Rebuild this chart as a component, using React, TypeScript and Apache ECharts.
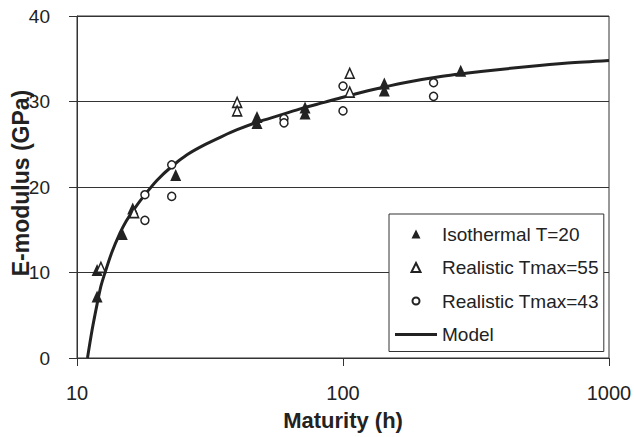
import React, { useEffect, useRef } from "react";
import * as echarts from "echarts";

// Maturity (h) and E-modulus (GPa) for each test series
const isothermalT20: [number, number][] = [
  [11.9, 7.2], [11.9, 10.3], [14.8, 14.5], [16.2, 17.5], [23.5, 21.4],
  [47.5, 28.2], [47.5, 27.5], [72, 29.3], [72, 28.6], [143, 32.1], [143, 31.3], [277, 33.6],
];
const realisticTmax55: [number, number][] = [
  [12.3, 10.6], [16.4, 17.0], [40, 29.9], [40, 28.9], [106, 33.3], [106, 31.1],
];
const realisticTmax43: [number, number][] = [
  [18.0, 19.1], [18.0, 16.1], [22.7, 22.6], [22.7, 18.9], [60, 28.0], [60, 27.5],
  [100, 31.8], [100, 28.9], [219, 32.2], [219, 30.6],
];

// Fitted model curve
const modelMaturity = [
  10.95, 11.4, 11.9, 12.3, 12.75, 13.5, 14.5, 15.3, 16.3, 18, 20, 22.7, 26, 30, 35, 40, 47.8,
  58, 70, 85, 100, 130, 170, 230, 330, 500, 700, 1000,
];
const modelModulus = [
  0, 3.3, 6.3, 8.4, 10.0, 12.3, 14.6, 16.0, 17.3, 19.1, 20.8, 22.4, 23.8, 24.9, 25.9, 26.7, 27.6,
  28.4, 29.2, 29.9, 30.5, 31.4, 32.2, 32.9, 33.5, 34.1, 34.5, 34.8,
];

const xTicks = [10, 100, 1000];
const yTicks = [0, 10, 20, 30, 40];

const FONT = "'Liberation Sans', Arial, Helvetica, sans-serif";
const INK = "#222";

// Legend icons as paths so they keep their own proportions inside the item box
const ICON_TRIANGLE = "path://M0,0M5,0.5L9.5,9.5L0.5,9.5ZM10,10";
const ICON_CIRCLE = "path://M0,0M1.5,5a3.5,3.5 0 1,0 7,0a3.5,3.5 0 1,0 -7,0ZM10,10";
const ICON_LINE = "path://M0,0L42,0L42,3L0,3Z";

export default function App() {
  const ref = useRef<HTMLDivElement>(null);

  useEffect(() => {
    if (!ref.current) return;
    const chart = echarts.init(ref.current, null, { renderer: "svg" });
    const modelData = modelMaturity.map((m, i) => [m, modelModulus[i]]);

    chart.setOption({
      animation: false,
      backgroundColor: "#fff",
      textStyle: { fontFamily: FONT, color: INK },
      grid: {
        left: 77,
        right: 25,
        top: 16,
        bottom: 79,
        outerBoundsMode: "none",
        containLabel: false,
        show: true,
        borderColor: "#333",
        borderWidth: 1,
        backgroundColor: "transparent",
      },
      xAxis: {
        type: "log",
        logBase: 10,
        min: xTicks[0],
        max: xTicks[xTicks.length - 1],
        name: "Maturity (h)",
        nameLocation: "middle",
        nameGap: 51,
        nameMoveOverlap: false,
        nameTextStyle: { fontFamily: FONT, fontSize: 22, fontWeight: "bold", color: INK },
        axisLine: { show: true, lineStyle: { color: "#333", width: 1 } },
        axisTick: { show: true, inside: false, length: 8, lineStyle: { color: "#333" } },
        minorTick: { show: false },
        splitLine: { show: false },
        axisLabel: {
          fontFamily: FONT,
          fontSize: 20,
          color: INK,
          margin: 25,
          formatter: (v: number) => String(Math.round(v)),
        },
      },
      yAxis: {
        type: "value",
        min: yTicks[0],
        max: yTicks[yTicks.length - 1],
        interval: 10,
        name: "E-modulus (GPa)",
        nameLocation: "middle",
        nameRotate: 90,
        nameGap: 45,
        nameMoveOverlap: false,
        nameTextStyle: { fontFamily: FONT, fontSize: 23, fontWeight: "bold", color: INK, padding: [0, 0, 0, 8] },
        axisLine: { show: true, lineStyle: { color: "#333", width: 1 } },
        axisTick: { show: true, inside: false, length: 8, lineStyle: { color: "#333" } },
        splitLine: { show: true, lineStyle: { color: "#333", width: 1 } },
        axisLabel: { fontFamily: FONT, fontSize: 19, color: INK, margin: 27 },
      },
      legend: {
        orient: "vertical",
        left: 389,
        top: 214,
        padding: [9, 5, 6, 6],
        itemWidth: 42,
        itemHeight: 10,
        itemGap: 11.5,
        symbolKeepAspect: true,
        backgroundColor: "#fff",
        borderColor: "#333",
        borderWidth: 1,
        borderRadius: 0,
        textStyle: { fontFamily: FONT, fontSize: 19, lineHeight: 22, color: INK },
        data: [
          { name: "Isothermal T=20", icon: ICON_TRIANGLE },
          { name: "Realistic Tmax=55", icon: ICON_TRIANGLE },
          { name: "Realistic Tmax=43", icon: ICON_CIRCLE },
          { name: "Model", icon: ICON_LINE },
        ],
      },
      series: [
        {
          name: "Model",
          type: "line",
          data: modelData,
          smooth: 0.3,
          symbol: "none",
          lineStyle: { color: INK, width: 3 },
          itemStyle: { color: INK },
          z: 2,
        },
        {
          name: "Isothermal T=20",
          type: "scatter",
          data: isothermalT20,
          symbol: "triangle",
          symbolSize: [11, 12],
          itemStyle: { color: INK, opacity: 1 },
          z: 3,
        },
        {
          name: "Realistic Tmax=55",
          type: "scatter",
          data: realisticTmax55,
          symbol: "triangle",
          symbolSize: [9, 10],
          itemStyle: { color: "#fff", borderColor: INK, borderWidth: 1.5, opacity: 1 },
          z: 4,
        },
        {
          name: "Realistic Tmax=43",
          type: "scatter",
          data: realisticTmax43,
          symbol: "circle",
          symbolSize: 8,
          itemStyle: { color: "#fff", borderColor: INK, borderWidth: 1.5, opacity: 1 },
          z: 4,
        },
      ],
    });

    return () => chart.dispose();
  }, []);

  return (
    <div
      ref={ref}
      style={{ position: "fixed", left: 0, top: 0, width: 634, height: 437 }}
    />
  );
}
